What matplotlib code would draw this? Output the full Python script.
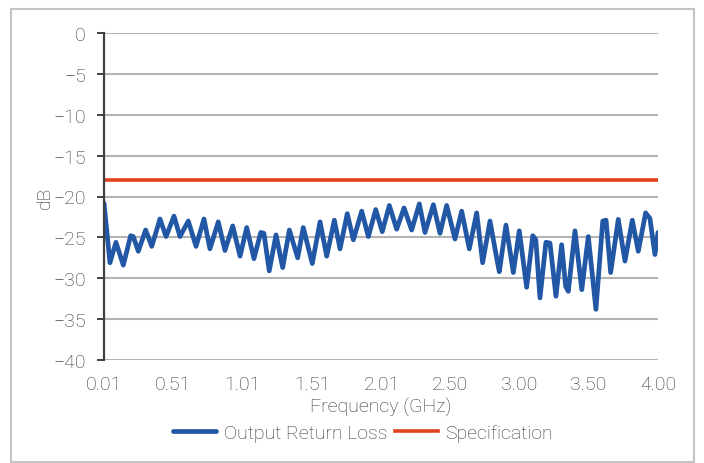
import matplotlib
matplotlib.use("Agg")
import matplotlib.pyplot as plt
from matplotlib.patches import Rectangle

freq_ghz = [0.010, 0.053, 0.096, 0.149, 0.202, 0.221, 0.257, 0.310, 0.354, 0.413,
            0.457, 0.514, 0.557, 0.617, 0.673, 0.730, 0.773, 0.833, 0.881, 0.937,
            0.990, 1.038, 1.090, 1.139, 1.162, 1.200, 1.249, 1.297, 1.345, 1.405,
            1.445, 1.510, 1.566, 1.614, 1.669, 1.710, 1.762, 1.806, 1.866, 1.914,
            1.967, 2.014, 2.065, 2.118, 2.171, 2.226, 2.281, 2.322, 2.382, 2.430,
            2.478, 2.538, 2.586, 2.641, 2.694, 2.737, 2.790, 2.840, 2.857, 2.905,
            2.958, 3.001, 3.054, 3.098, 3.120, 3.150, 3.193, 3.222, 3.265, 3.306,
            3.335, 3.354, 3.402, 3.451, 3.498, 3.553, 3.602, 3.626, 3.659, 3.714,
            3.762, 3.815, 3.858, 3.911, 3.942, 3.978, 4.000]
return_loss_db = [-20.8, -28.1, -25.6, -28.4, -24.8, -24.9, -26.7, -24.1, -26.1, -22.75,
                  -24.9, -22.4, -24.9, -23.0, -26.1, -22.75, -26.4, -23.1, -26.6, -23.6,
                  -27.3, -23.8, -27.6, -24.4, -24.5, -29.1, -24.7, -28.7, -24.1, -27.5,
                  -23.8, -28.2, -23.1, -27.3, -22.9, -26.4, -22.1, -25.3, -21.8, -24.9,
                  -21.6, -24.3, -21.1, -24.0, -21.4, -24.1, -20.9, -24.4, -21.0, -24.5,
                  -21.1, -25.2, -21.8, -26.4, -22.0, -28.1, -23.0, -27.7, -29.2, -23.5,
                  -29.3, -24.2, -31.1, -24.8, -25.3, -32.4, -25.6, -25.7, -32.2, -25.9,
                  -31.0, -31.6, -24.2, -31.4, -24.9, -33.8, -23.0, -22.9, -29.3, -22.8,
                  -27.9, -22.9, -26.7, -22.0, -22.7, -27.1, -24.4]
spec_db = -18.0
x_tick_values = [0.01, 0.51, 1.01, 1.51, 2.01, 2.50, 3.00, 3.50, 4.00]
x_tick_labels = ["0.01", "0.51", "1.01", "1.51", "2.01", "2.50", "3.00", "3.50", "4.00"]
y_ticks = [0, -5, -10, -15, -20, -25, -30, -35, -40]

plt.rcParams['font.family'] = ['Roboto', 'DejaVu Sans']
plt.rcParams['axes.unicode_minus'] = True
text_color = '#333333'
fs = 14

W, H = 704, 464
fig = plt.figure(figsize=(W / 100, H / 100), dpi=100)
fig.patch.set_facecolor('white')
fig.patches.append(Rectangle((10.5 / W, 1.5 / H), 683 / W, 453 / H, transform=fig.transFigure,
                             fill=False, edgecolor='#c4c4c4', linewidth=1.5))

ax = fig.add_axes([104 / W, 1 - 361 / H, 554 / W, 327 / H])
ax.set_xlim(0.01, 4.00)
ax.set_ylim(-40, 0)
for yv in y_ticks:
    ax.axhline(yv, color='#b4b4b4', linewidth=1.5, zorder=1)

blue, = ax.plot(freq_ghz, return_loss_db, color='#2157a5', linewidth=3.4,
                solid_joinstyle='round', solid_capstyle='round', zorder=3,
                label='Output Return Loss')
red = ax.axhline(spec_db, color='#e0421d', linewidth=2.6, zorder=2, label='Specification')

for s in ['top', 'right', 'bottom']:
    ax.spines[s].set_visible(False)
ax.spines['left'].set_color('#404040')
ax.spines['left'].set_linewidth(1.6)
ax.spines['left'].set_zorder(4)

ax.set_yticks(y_ticks)
ax.set_yticklabels([f"{v}".replace('-', '\u2212') for v in y_ticks])
ax.set_xticks(x_tick_values)
ax.set_xticklabels(x_tick_labels)
ax.tick_params(axis='y', direction='out', length=5, width=1.4, color='#404040', pad=8,
               labelsize=fs, labelcolor=text_color)
ax.tick_params(axis='x', length=0, pad=11, labelsize=fs, labelcolor=text_color)
for lbl in ax.get_xticklabels() + ax.get_yticklabels():
    lbl.set_fontweight('light')

ax.set_xlabel('Frequency (GHz)', fontsize=fs, color=text_color, fontweight='light', labelpad=3)
ax.set_ylabel('dB', fontsize=fs, color=text_color, fontweight='light')
ax.yaxis.set_label_coords(-0.090, 0.5)

leg = fig.legend(handles=[blue, red], loc='center', bbox_to_anchor=(363 / W, 1 - 434 / H),
                 ncol=2, frameon=False, fontsize=fs, handlelength=2.2, handletextpad=0.4,
                 columnspacing=0.4)
for t in leg.get_texts():
    t.set_color(text_color)
    t.set_fontweight('light')

fig.savefig('out.png', dpi=100)
